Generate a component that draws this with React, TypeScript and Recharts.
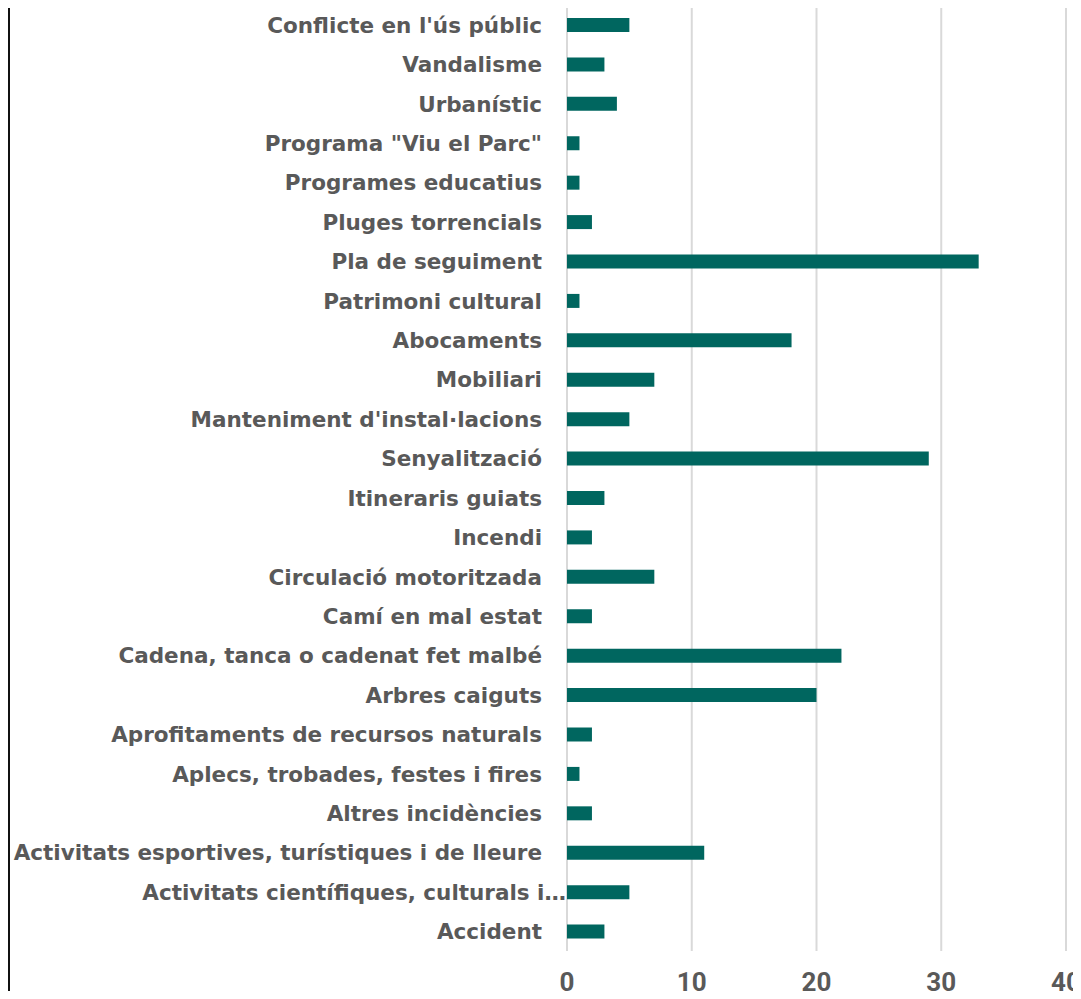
import { Bar, BarChart, CartesianGrid, XAxis, YAxis } from "recharts";

// top to bottom, as drawn
const categories = [
  "Conflicte en l'ús públic",
  "Vandalisme",
  "Urbanístic",
  'Programa "Viu el Parc"',
  "Programes educatius",
  "Pluges torrencials",
  "Pla de seguiment",
  "Patrimoni cultural",
  "Abocaments",
  "Mobiliari",
  "Manteniment d'instal·lacions",
  "Senyalització",
  "Itineraris guiats",
  "Incendi",
  "Circulació motoritzada",
  "Camí en mal estat",
  "Cadena, tanca o cadenat fet malbé",
  "Arbres caiguts",
  "Aprofitaments de recursos naturals",
  "Aplecs, trobades, festes i fires",
  "Altres incidències",
  "Activitats esportives, turístiques i de lleure",
  "Activitats científiques, culturals i…",
  "Accident",
];

const counts = [5, 3, 4, 1, 1, 2, 33, 1, 18, 7, 5, 29, 3, 2, 7, 2, 22, 20, 2, 1, 2, 11, 5, 3];

const xTicks = [0, 10, 20, 30, 40];

const rows = categories.map((name, i) => ({ name, value: counts[i] }));

const TEXT = "#595959";
const BAR = "#00665f";

function CategoryTick(props: any) {
  const { x, y, payload } = props;
  const truncated = String(payload.value).endsWith("…");
  return (
    <text
      x={truncated ? x + 7 : x - 17}
      y={y}
      dy={8}
      textAnchor="end"
      fill={TEXT}
      fontFamily="'DejaVu Sans', sans-serif"
      fontWeight={700}
      fontSize={21.5}
    >
      {payload.value}
    </text>
  );
}

function ValueTick(props: any) {
  const { x, y, payload } = props;
  return (
    <text
      x={x}
      y={y}
      dy={32}
      textAnchor="middle"
      fill={TEXT}
      fontFamily="Roboto, sans-serif"
      fontWeight={700}
      fontSize={26}
    >
      {payload.value}
    </text>
  );
}

export default function App() {
  return (
    <div style={{ position: "relative", width: 1081, height: 999, margin: "-8px 0 -8px -8px", overflow: "hidden", background: "#fff" }}>
      <div style={{ position: "absolute", left: 0, top: 0 }}>
        <BarChart
          width={1081}
          height={999}
          data={rows}
          layout="vertical"
          margin={{ top: 5, right: 15, left: 0, bottom: 8 }}
          barSize={14}
        >
          <CartesianGrid horizontal={false} stroke="#d9d9d9" strokeWidth={2} />
          <XAxis
            type="number"
            domain={[0, 40]}
            ticks={xTicks}
            axisLine={false}
            tickLine={false}
            tick={<ValueTick />}
            height={40}
            interval={0}
          />
          <YAxis
            type="category"
            dataKey="name"
            width={567}
            axisLine={false}
            tickLine={false}
            tick={<CategoryTick />}
            interval={0}
          />
          <Bar dataKey="value" fill={BAR} isAnimationActive={false} />
        </BarChart>
      </div>
      {/* frame remnants on the left edge */}
      <div style={{ position: "absolute", left: 0, top: 638, width: 6, height: 2, background: "#0f766e", zIndex: 5 }} />
      <div style={{ position: "absolute", left: 3, top: 638, width: 3, height: 361, background: "#0f766e", zIndex: 5 }} />
      <div style={{ position: "absolute", left: 8, top: 0, width: 2, height: 999, background: "#111", zIndex: 5 }} />
    </div>
  );
}
